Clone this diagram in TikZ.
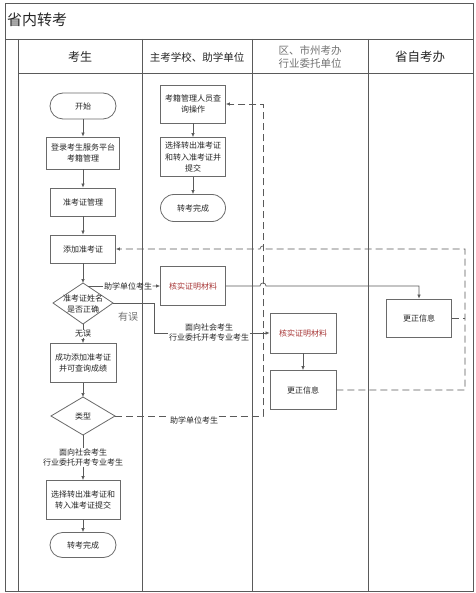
\documentclass[tikz,border=0pt]{standalone}
\usepackage{fontspec}
\setmainfont{Noto Sans CJK SC}
\usetikzlibrary{arrows.meta,calc}
\definecolor{lane}{HTML}{5A5A5A}
\definecolor{bord}{HTML}{6A6A6A}
\definecolor{txt}{HTML}{262626}
\definecolor{red1}{HTML}{A83838}
\begin{document}
\begin{tikzpicture}[x=1pt,y=-1pt,
  lanel/.style={draw=lane,line width=0.9pt},
  box/.style={draw=bord,line width=0.8pt,fill=white,align=center,inner sep=0pt,text=txt,font=\fontsize{8}{11.5}\selectfont},
  term/.style={box},
  lbl/.style={align=center,inner sep=0.5pt,text=txt,font=\fontsize{8}{10}\selectfont},
  conn/.style={draw=lane,line width=0.7pt},
  arr/.style={conn,-{Latex[length=4pt,width=3.6pt]}},
  dsh/.style={conn,dash pattern=on 7pt off 4pt},
  darr/.style={dsh,-{Latex[length=4pt,width=3.6pt]}},
  dia/.style={draw=bord,line width=0.8pt,fill=white}
]
\useasboundingbox (0,0) rectangle (475,593);
\fill[white] (0,0) rectangle (475,593);
% lanes
\draw[lanel] (5,3) rectangle (473,591);
\draw[lanel] (5,39) -- (473,39);
\draw[lanel] (18,39) -- (18,591);
\draw[lanel] (18,73) -- (473,73);
\foreach \x in {142,252,368} \draw[lanel] (\x,39) -- (\x,591);
% headers
\node[font=\fontsize{15}{18}\selectfont,text=txt,anchor=west,inner sep=0pt] (title) at (7,20) {省内转考};
\node[font=\fontsize{12}{14}\selectfont,text=txt] (h1) at (80,57) {考生};
\node[font=\fontsize{10.5}{13}\selectfont,text=txt] (h2) at (197,57) {主考学校、助学单位};
\node[font=\fontsize{10.5}{13}\selectfont,text=black!55,align=center] (h3) at (310,57) {区、市州考办\\行业委托单位};
\node[font=\fontsize{12.5}{14}\selectfont,text=txt] (h4) at (420,57) {省自考办};
% column 1
\node[term,minimum width=66pt,minimum height=26pt,rounded corners=13pt] (start) at (83,106) {开始};
\node[box,minimum width=73pt,minimum height=32pt] (login) at (83,153) {登录考生服务平台\\考籍管理};
\node[box,minimum width=65pt,minimum height=28pt] (mgr) at (83,202) {准考证管理};
\node[box,minimum width=65pt,minimum height=28pt] (add) at (83,249) {添加准考证};
\coordinate (d1n) at (83,283); \coordinate (d1e) at (113,303);
\coordinate (d1s) at (83,324); \coordinate (d1w) at (53,303);
\draw[dia] (d1n) -- (d1e) -- (d1s) -- (d1w) -- cycle;
\node[lbl,font=\fontsize{8}{11}\selectfont] (d1) at (83,303.5) {准考证姓名\\是否正确};
\node[box,minimum width=66pt,minimum height=39pt] (ok) at (83,363) {成功添加准考证\\并可查询成绩};
\coordinate (d2n) at (83,397); \coordinate (d2e) at (115,416);
\coordinate (d2s) at (83,435); \coordinate (d2w) at (51,416);
\draw[dia] (d2n) -- (d2e) -- (d2s) -- (d2w) -- cycle;
\node[lbl] (d2) at (83,416) {类型};
\node[box,minimum width=74pt,minimum height=39pt] (sel1) at (83,500) {选择转出准考证和\\转入准考证提交};
\node[term,minimum width=66pt,minimum height=25pt,rounded corners=12.5pt] (end1) at (83,545) {转考完成};
% column 2
\node[box,minimum width=65pt,minimum height=38pt] (query) at (193,104) {考籍管理人员查\\询操作};
\node[box,minimum width=65pt,minimum height=39pt] (sel2) at (193,157) {选择转出准考证\\和转入准考证并\\提交};
\node[term,minimum width=65pt,minimum height=27pt,rounded corners=13.5pt] (end2) at (193,208) {转考完成};
\node[box,minimum width=65pt,minimum height=39pt,text=red1] (chk2) at (193,286) {核实证明材料};
% column 3
\node[box,minimum width=66pt,minimum height=40pt,text=red1] (chk3) at (303,333) {核实证明材料};
\node[box,minimum width=66pt,minimum height=39pt] (fix3) at (303,390) {更正信息};
% column 4
\node[box,minimum width=65pt,minimum height=38pt] (fix4) at (419,318) {更正信息};
% labels
\node[lbl] (lwu) at (83,334) {无误};
\node[lbl] (lzx1) at (128,286) {助学单位考生};
\node[lbl] (lsh1) at (209,332.5) {面向社会考生\\行业委托开考专业考生};
\node[lbl] (lsh2) at (83,457.5) {面向社会考生\\行业委托开考专业考生};
\node[lbl] (lzx2) at (194,420) {助学单位考生};
\node[text=black!55,font=\fontsize{10}{12}\selectfont,inner sep=0pt] (lyw) at (128,317) {有误};
% connectors column flow
\draw[arr] (start) -- (login);
\draw[arr] (login) -- (mgr);
\draw[arr] (mgr) -- (add);
\draw[arr] (add) -- (d1n);
\draw[conn] (d1s) -- (lwu);
\draw[arr] (lwu) -- (ok);
\draw[arr] (ok) -- (d2n);
\draw[conn] (d2s) -- (lsh2);
\draw[arr] (lsh2) -- (sel1);
\draw[arr] (sel1) -- (end1);
\draw[arr] (query) -- (sel2);
\draw[arr] (sel2) -- (end2);
\draw[arr] (chk3) -- (fix3);
% diamond 1 branches
\coordinate (d1a) at ($(d1n)!0.15!(d1e)$);
\draw[conn] (d1a) -- (lzx1.west |- d1a);
\draw[arr] (lzx1.east |- d1a) -- (chk2.west);
\coordinate (c1) at (154,303); \coordinate (c2) at (154,333);
\draw[conn] (d1e) -- (c1) -- (c2) -- (lsh1.west |- c2);
\draw[arr] (lsh1.east |- c2) -- (chk3.west);
% chk2 -> fix4 with hop
\coordinate (h1a) at (260,286); \coordinate (h1b) at (266,286); \coordinate (c3) at (419,286);
\draw[arr] (chk2.east) -- (h1a) .. controls (260,282) and (266,282) .. (h1b) -- (c3) -- (fix4.north);
% dashed type -> query
\coordinate (c4) at (263,416); \coordinate (c5) at (263,104);
\draw[dsh] (d2e) -- (lzx2.west |- d2e);
\draw[darr] (lzx2.east |- d2e) -- (c4) -- (c5) -- (query.east);
% dashed fix -> add
\coordinate (c6) at (465,390); \coordinate (c7) at (465,249);
\coordinate (h2a) at (266,249); \coordinate (h2b) at (260,249);
\draw[darr] (fix3.east) -- (c6) -- (c7) -- (h2a) .. controls (266,245) and (260,245) .. (h2b) -- (add.east);
\draw[dsh] (fix4.east) -- (fix4.east -| c6);
\end{tikzpicture}
\end{document}
